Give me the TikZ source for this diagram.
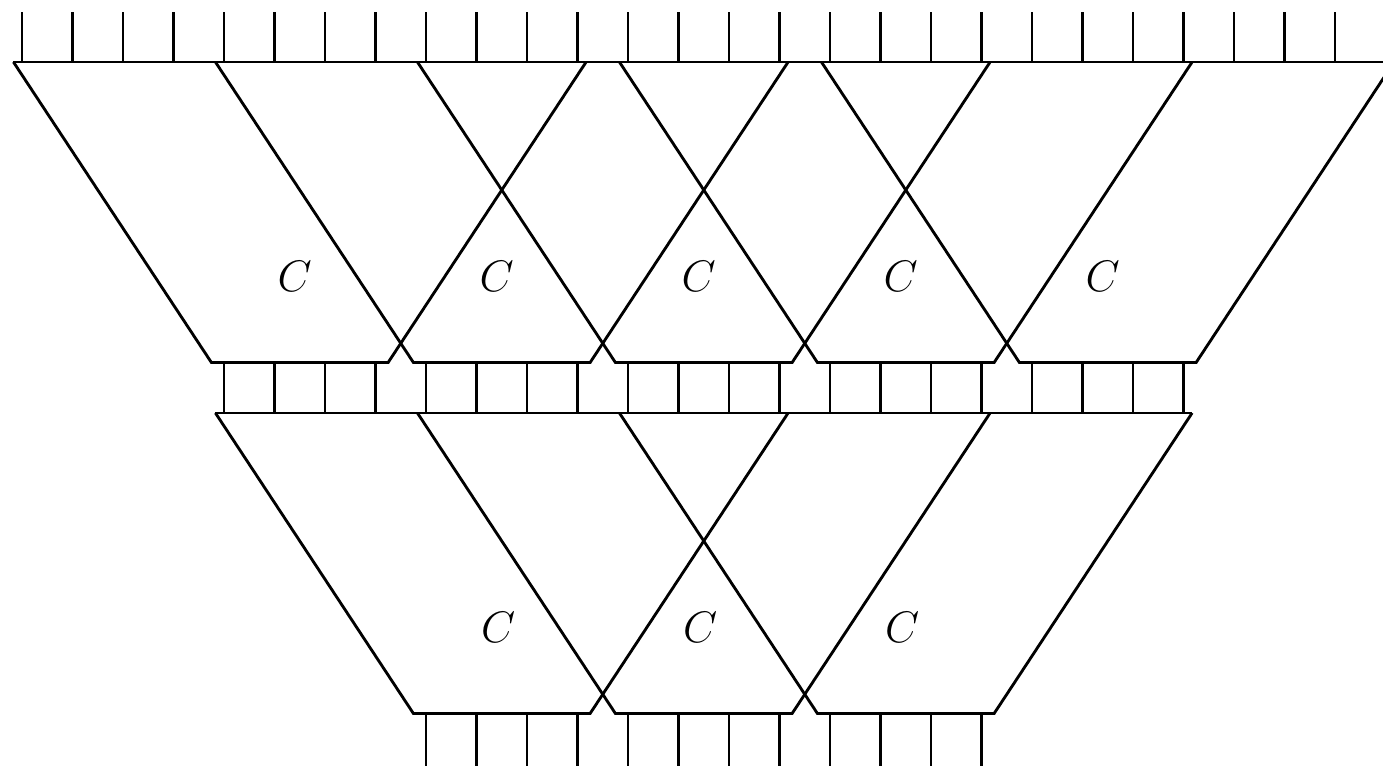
\documentclass[tikz,border=0pt]{standalone}
\usepackage{amsmath}
\begin{document}
\begin{tikzpicture}[x=1cm, y=1cm, line width=1.6pt,
    gatelabel/.style={font=\fontsize{34}{38}\selectfont}]
        % Frame of the picture
        \useasboundingbox (-0.436,0) rectangle (26.95,15.228);
        \clip (-0.436,0) rectangle (26.95,15.228);

        % Legs on top
        \foreach \k in {0,...,27} {
            \draw (\k,14) -- (\k,15);
        }

        % Upper layer of blocks
        \draw (-0.17,14) -- (27.17,14);
        \foreach \i in {0,...,4} {
            \draw (4*\i-0.17,14) -- (4*\i+3.75,8.05) -- (4*\i+7.25,8.05) -- (4*\i+11.17,14);
            \node[gatelabel] (ctop\i) at (4*\i+5.4,9.75) {$C$};
        }

        % Legs between the layers
        \foreach \k in {4,...,23} {
            \draw (\k,8.05) -- (\k,7.05);
        }

        % Lower layer of blocks
        \draw (3.83,7.05) -- (23.17,7.05);
        \foreach \j in {0,1,2} {
            \draw (4*\j+3.83,7.05) -- (4*\j+7.75,1.1) -- (4*\j+11.25,1.1) -- (4*\j+15.17,7.05);
            \node[gatelabel] (cbot\j) at (4*\j+9.43,2.8) {$C$};
        }

        % Legs at the bottom
        \foreach \k in {8,...,19} {
            \draw (\k,1.1) -- (\k,0.05);
        }
    \end{tikzpicture}
\end{document}
